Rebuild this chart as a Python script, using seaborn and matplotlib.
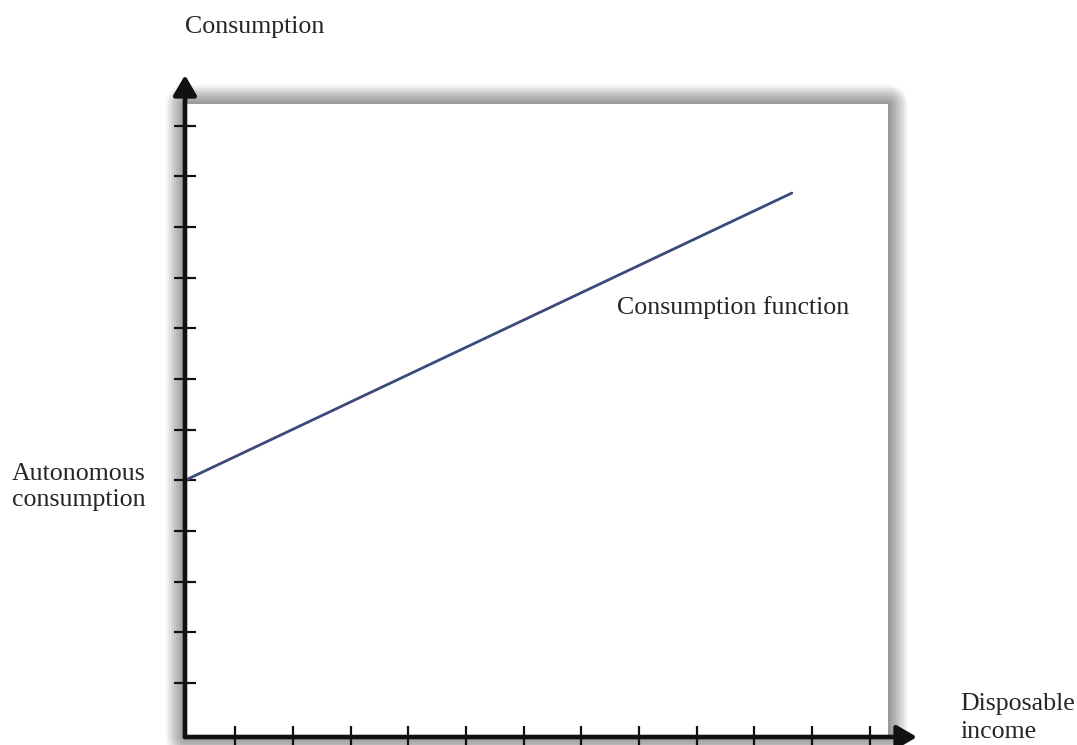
import matplotlib
matplotlib.use('Agg')
import matplotlib.pyplot as plt
from matplotlib.patches import Rectangle
import seaborn as sns
import pandas as pd

# dados da função consumo (unidades = marcas dos eixos)
renda_disponivel = [0.13, 10.65]
consumo = [5.0, 10.67]
marcas_x = list(range(1, 13))
marcas_y = list(range(1, 13))

sns.set_style('white')
plt.rcParams['font.family'] = ['Liberation Serif', 'DejaVu Serif']

cor_texto = '#262626'
tam_fonte = 18.6

fig = plt.figure(figsize=(10.77, 7.45), dpi=100)
ax = fig.add_axes([0.17177, 0.010738, 0.67967, 0.88859])
ax.set_xlim(0.13, 12.82)
ax.set_ylim(-0.065, 13.0)
ax.patch.set_alpha(0)
ax.set_axisbelow(False)

# caixa branca com sombra suave
caixa_x0, caixa_y0, caixa_x1, caixa_y1 = 0.13, -0.065, 12.32, 12.42
for i in range(1, 13):
    ax.add_patch(Rectangle((caixa_x0, caixa_y0), caixa_x1 - caixa_x0, caixa_y1 - caixa_y0,
                           fill=False, edgecolor='black', alpha=0.04, lw=2.3 * i,
                           zorder=0, clip_on=False, joinstyle='round'))
ax.add_patch(Rectangle((caixa_x0, caixa_y0), caixa_x1 - caixa_x0, caixa_y1 - caixa_y0,
                       facecolor='white', edgecolor='none', zorder=1, clip_on=False))

# função consumo
df = pd.DataFrame({'renda': renda_disponivel, 'consumo': consumo})
sns.lineplot(data=df, x='renda', y='consumo', color='#3b4a7a', lw=2.0, ax=ax, zorder=3)

# eixos com setas
for s in ax.spines.values():
    s.set_visible(False)
seta = dict(arrowstyle='-|>,head_length=0.55,head_width=0.32', lw=3.3, color='#111111',
            mutation_scale=22, shrinkA=0, shrinkB=0)
ax.annotate('', xy=(0, 1), xytext=(0, 0), xycoords='axes fraction',
            textcoords='axes fraction', arrowprops=seta, zorder=5)
ax.annotate('', xy=(1, 0), xytext=(0, 0), xycoords='axes fraction',
            textcoords='axes fraction', arrowprops=seta, zorder=5)

ax.set_xticks(marcas_x)
ax.set_yticks(marcas_y)
ax.tick_params(axis='both', direction='inout', length=16, width=1.6, color='#111111',
               labelbottom=False, labelleft=False, bottom=True, left=True)
ax.set_xlabel('')
ax.set_ylabel('')

# textos
fig.text(185 / 1077, 1 - 27 / 745, 'Consumption', fontsize=tam_fonte, color=cor_texto,
         ha='left', va='center')
fig.text(617 / 1077, 1 - 308 / 745, 'Consumption function', fontsize=tam_fonte,
         color=cor_texto, ha='left', va='center')
fig.text(12 / 1077, 1 - 487 / 745, 'Autonomous\nconsumption', fontsize=tam_fonte,
         color=cor_texto, ha='left', va='center', linespacing=1.25)
fig.text(1075 / 1077, 1 - 718 / 745, 'Disposable\nincome', fontsize=tam_fonte,
         color=cor_texto, ha='right', va='center', multialignment='left', linespacing=1.35)

fig.savefig('out.png', dpi=100)
